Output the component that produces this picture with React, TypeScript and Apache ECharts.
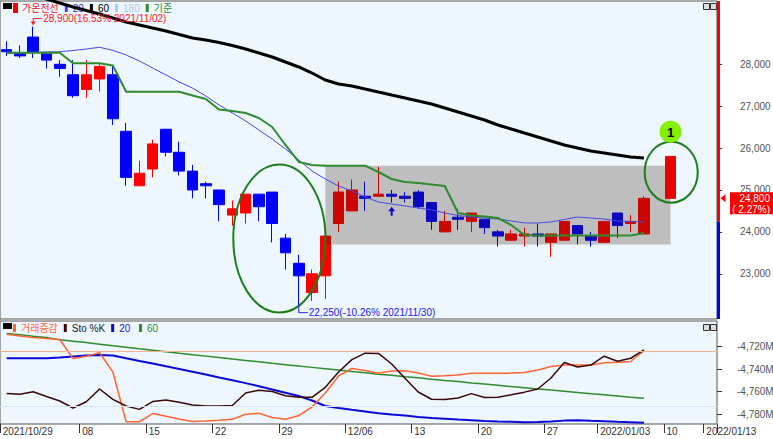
import React, { useEffect, useRef } from 'react';
import * as echarts from 'echarts';

const FONT = "'Liberation Sans', 'Noto Sans CJK KR', sans-serif";

const dates = [
  '2021/10/29',
  '2021/11/01', '2021/11/02', '2021/11/03', '2021/11/04', '2021/11/05',
  '2021/11/08', '2021/11/09', '2021/11/10', '2021/11/11', '2021/11/12',
  '2021/11/15', '2021/11/16', '2021/11/17', '2021/11/18', '2021/11/19',
  '2021/11/22', '2021/11/23', '2021/11/24', '2021/11/25', '2021/11/26',
  '2021/11/29', '2021/11/30', '2021/12/01', '2021/12/02', '2021/12/03',
  '2021/12/06', '2021/12/07', '2021/12/08', '2021/12/09', '2021/12/10',
  '2021/12/13', '2021/12/14', '2021/12/15', '2021/12/16', '2021/12/17',
  '2021/12/20', '2021/12/21', '2021/12/22', '2021/12/23', '2021/12/24',
  '2021/12/27', '2021/12/28', '2021/12/29', '2021/12/30',
  '2022/01/03', '2022/01/04', '2022/01/05', '2022/01/06', '2022/01/07',
  '2022/01/10', '2022/01/11', '2022/01/12', '2022/01/13',
];

const xTickIdx = [0, 6, 11, 16, 21, 26, 31, 36, 41, 45, 50, 53];
const xTickText = ['2021/10/29', '08', '15', '22', '29', '12/06', '13', '20', '27', '2022/01/03', '10', '2022/01/13'];

const yTicksTop = [23000, 24000, 25000, 26000, 27000, 28000];
const yTicksLow = [-4780, -4760, -4740, -4720];

const opens = [
  28350, 28250, 28650, 28250, 28000, 27750, 27400, 27650, 27750, 26400,
  25100, 25500, 26450, 25900, 25450, 25150, 25000, 24400, 24450, 24900,
  24950, 23850, 23250, 22550, 22950, 24200, 24500, 24850, 24850, 24900,
  24850, 24950, 24700, 24000, 24350, 24250, 24300, 24000, 23800, 23900,
  23950, 23750, 23800, 24150, 23900, 23750, 24450, 24200, 23950,
];
const closes = [
  28300, 28200, 28300, 28100, 27900, 27250, 27750, 27950, 26700, 25300,
  25400, 26100, 25900, 25450, 25000, 25100, 24650, 24550, 24900, 24600,
  24200, 23500, 22950, 23000, 23900, 24950, 25000, 24800, 24900, 24850,
  24800, 24600, 24250, 24250, 24300, 24450, 24100, 23900, 23950, 23950,
  23900, 23950, 24250, 23950, 23800, 24250, 24150, 24250, 24800,
];
const lows = [
  28200, 28150, 28150, 27900, 27700, 27200, 27200, 27350, 26550, 25100,
  25100, 25300, 25800, 25350, 24800, 24800, 24250, 24150, 24200, 24250,
  23750, 23100, 22250, 22350, 22400, 24000, 24500, 24500, 24850, 24700,
  24700, 24550, 24050, 24000, 24050, 24000, 23950, 23650, 23800, 23650,
  23650, 23400, 23800, 23700, 23650, 23750, 23850, 24000, 23950,
];
const highs = [
  28550, 28450, 28900, 28250, 28100, 28100, 28100, 28000, 27950, 26600,
  25700, 26200, 26450, 26150, 25600, 25200, 25000, 24750, 24900, 24900,
  24950, 23950, 23450, 23100, 23950, 25200, 25250, 25200, 25550, 25000,
  24950, 25000, 24700, 24500, 24550, 24450, 24300, 24050, 24050, 24100,
  24200, 23950, 24250, 24150, 24000, 24250, 24450, 24400, 24850,
];

const forecastIdx = 50;
const forecastOHLC = [24800, 25800, 24800, 25800];

const ma20 = [
  28263, 28270, 28282, 28294, 28301, 28329, 28365, 28406, 28334, 28222,
  28079, 27912, 27745, 27578, 27434, 27243, 27029, 26838, 26647, 26432,
  26217, 25978, 25716, 25453, 25262, 25095, 24976, 24833, 24713, 24665,
  24618, 24570, 24522, 24451, 24391, 24355, 24331, 24307, 24260, 24212,
  24212, 24236, 24295, 24355, 24331, 24307, 24260, 24248, 24236,
];
const ma60 = [
  29821, 29738, 29642, 29559, 29463, 29368, 29284, 29201, 29105, 29010,
  28938, 28866, 28795, 28711, 28628, 28580, 28520, 28449, 28365, 28270,
  28174, 28055, 27936, 27792, 27625, 27530, 27482, 27410, 27339, 27267,
  27196, 27124, 27052, 26957, 26861, 26766, 26670, 26551, 26456, 26360,
  26265, 26169, 26074, 26002, 25930, 25883, 25835, 25787, 25763,
];
const baseLine = [
  28277, 28277, 28277, 28277, 28277, 28024, 28024, 28024, 27971, 27346,
  27346, 27346, 27346, 27346, 27255, 27172, 26921, 26885, 26838, 26718,
  26503, 26074, 25668, 25596, 25580, 25580, 25580, 25580, 25429, 25262,
  25190, 25166, 25131, 25095, 24451, 24391, 24367, 24331, 24164, 23925,
  23913, 23913, 23913, 23913, 23913, 23913, 23913, 23913, 23973,
];

const volChange = [
  -4708.9, -4710.5, -4711.8, -4712.8, -4713.6, -4730.5, -4728.5, -4725.3, -4742.5, -4786.7,
  -4786.7, -4779.4, -4781.9, -4784.3, -4786.5, -4786.1, -4785.4, -4784.5, -4780.1, -4779.2,
  -4782.9, -4784.5, -4781.2, -4773.6, -4761.2, -4746.0, -4739.4, -4741.1, -4743.6, -4741.6,
  -4741.4, -4743.4, -4746.2, -4745.9, -4745.2, -4743.7, -4743.6, -4743.6, -4743.5, -4742.9,
  -4740.7, -4737.6, -4736.3, -4736.3, -4736.3, -4734.2, -4733.8, -4733.2, -4723.6,
];
const stoK = [
  -4761.7, -4762.2, -4760.1, -4764.3, -4768.3, -4774.5, -4768.9, -4757.6, -4766.8, -4772.7,
  -4775.7, -4768.8, -4767.4, -4769.3, -4771.8, -4772.7, -4772.7, -4772.3, -4761.2, -4758.7,
  -4759.8, -4763.6, -4765.0, -4765.0, -4756.1, -4742.5, -4731.5, -4725.8, -4726.0, -4735.4,
  -4748.1, -4760.3, -4766.7, -4767.0, -4765.6, -4761.7, -4765.2, -4765.0, -4762.8, -4760.4,
  -4757.6, -4747.8, -4734.0, -4738.0, -4736.3, -4728.5, -4733.0, -4730.3, -4722.9,
];
const low20 = [
  -4730.3, -4730.3, -4730.3, -4730.3, -4729.6, -4728.7, -4727.8, -4727.4, -4727.8, -4730.3,
  -4732.7, -4734.9, -4737.4, -4739.8, -4742.2, -4744.7, -4747.4, -4749.8, -4752.4, -4755.1,
  -4758.0, -4760.9, -4763.8, -4767.8, -4772.7, -4774.5, -4776.1, -4777.6, -4779.1, -4780.2,
  -4781.2, -4782.5, -4783.4, -4784.1, -4784.8, -4785.4, -4786.0, -4786.5, -4786.8, -4787.1,
  -4786.9, -4786.5, -4785.7, -4785.3, -4785.8, -4786.2, -4786.7, -4787.1, -4787.6,
];
const low60 = [
  -4708.3, -4709.4, -4710.7, -4711.8, -4713.8, -4715.1, -4716.4, -4717.8, -4719.2, -4720.5,
  -4721.9, -4723.2, -4724.5, -4725.9, -4727.1, -4728.4, -4729.7, -4730.9, -4732.3, -4733.5,
  -4734.8, -4736.0, -4737.2, -4738.4, -4739.6, -4740.8, -4742.0, -4743.2, -4744.4, -4745.5,
  -4746.7, -4747.7, -4748.9, -4750.0, -4751.0, -4752.2, -4753.2, -4754.3, -4755.4, -4756.4,
  -4757.5, -4758.6, -4759.6, -4760.7, -4761.8, -4762.8, -4763.8, -4764.9, -4765.9,
];
const lowerRefLines = [-4724.4, -4772.7];

// annotations (data coordinates)
const boxRange = [[24, 25580, 50, 23700]];
const ellipses = [
  [20, 23840, 0.54, 3.47, 1766],
  [50, 25424, 0.05, 2.0, 728],
];
const badge = [[50, 26390]];
const badgeText = ['1'];
const extremes = [[2, 28900], [22, 22250]];
const extremeLabels = ['28,900(16.53% 2021/11/02)', '22,250(-10.26% 2021/11/30)'];
const signalArrow = [[29, 24600]];

const BG = '#EEF6FE';
const RED = '#FF0000';
const BLUE = '#0000FF';

function buildOption() {
  const candleData = opens.map((o, i) => [o, closes[i], lows[i], highs[i]]);
  const forecastData = dates.map((_, i) => (i === forecastIdx ? forecastOHLC : '-'));
  const last = closes.length - 1;
  const edgeData = [[last, closes[last - 1], closes[last]]];

  const fmt = (v: number) => v.toLocaleString('en-US');

  const lineS = (name: string, data: number[], color: string, width: number, xi: number, z = 4) => ({
    name,
    type: 'line',
    xAxisIndex: xi,
    yAxisIndex: xi,
    data,
    color,
    symbol: 'none',
    showSymbol: false,
    lineStyle: { color, width },
    z,
    silent: true,
  });

  const legendBase = {
    padding: 0, itemWidth: 3, itemHeight: 8, itemGap: 6, icon: 'rect',
    selectedMode: false,
    textStyle: { fontSize: 10, fontFamily: FONT },
  };

  return {
    animation: false,
    backgroundColor: '#FFFFFF',
    legend: [
      {
        ...legendBase, left: 13, top: 3,
        data: [
          { name: '가온전선', textStyle: { color: '#E8202A' } },
          { name: '20', textStyle: { color: '#3535C8' } },
          { name: '60', textStyle: { color: '#000000' } },
          { name: '180', textStyle: { color: '#A8CCF0' } },
          { name: '기준', textStyle: { color: '#2E8B2E' } },
        ],
      },
      {
        ...legendBase, left: 13, top: 323,
        data: [
          { name: '거래증감', textStyle: { color: '#FF6633' } },
          { name: 'Sto %K', textStyle: { color: '#222222' } },
          { name: '20 ', textStyle: { color: '#1515D0' } },
          { name: '60 ', textStyle: { color: '#2E8B2E' } },
        ],
      },
    ],
    grid: [
      { left: 0, right: 56, top: 1, height: 318, show: true, backgroundColor: BG, borderColor: '#555', borderWidth: 1, outerBoundsMode: 'none' },
      { left: 0, right: 56, top: 321, height: 103, show: true, backgroundColor: BG, borderColor: '#555', borderWidth: 1, outerBoundsMode: 'none' },
    ],
    xAxis: [
      { type: 'category', gridIndex: 0, data: dates, boundaryGap: true, show: false },
      {
        type: 'category', gridIndex: 1, data: dates, boundaryGap: true,
        axisLine: { show: false },
        axisTick: {
          show: true, length: 9, alignWithLabel: false,
          interval: (i: number) => xTickIdx.indexOf(i) >= 0,
          lineStyle: { color: '#333' },
        },
        axisLabel: {
          show: true, margin: 2, fontSize: 10, fontFamily: FONT, color: '#333',
          align: 'left', padding: [0, 0, 0, -4],
          interval: (i: number) => xTickIdx.indexOf(i) >= 0,
          formatter: (_v: string, i: number) => {
            const k = xTickIdx.indexOf(i);
            return k >= 0 ? xTickText[k] : '';
          },
        },
        splitLine: { show: false },
      },
    ],
    yAxis: [
      {
        type: 'value', gridIndex: 0, position: 'right', min: 21920, max: 29511,
        minInterval: 1000, maxInterval: 1000, scale: true,
        splitLine: { show: false },
        axisLine: { show: false },
        axisTick: { show: true, length: 5, customValues: yTicksTop, lineStyle: { color: '#333' } },
        axisLabel: {
          customValues: yTicksTop, margin: 23, fontSize: 10, fontFamily: FONT, color: '#555',
          formatter: (v: number) => (yTicksTop.indexOf(v) >= 0 ? fmt(v) : ''),
        },
      },
      {
        type: 'value', gridIndex: 1, position: 'right', min: -4788.7, max: -4697.2,
        minInterval: 20, maxInterval: 20, scale: true,
        splitLine: { show: false },
        axisLine: { show: false },
        axisTick: { show: true, length: 5, customValues: yTicksLow, lineStyle: { color: '#333' } },
        axisLabel: {
          customValues: yTicksLow, margin: 20, fontSize: 10, fontFamily: FONT, color: '#555',
          formatter: (v: number) => (yTicksLow.indexOf(v) >= 0 ? fmt(v) + 'M' : ''),
        },
      },
    ],
    graphic: [
      { type: 'rect', left: 3, top: 3, shape: { width: 9, height: 6 }, style: { fill: '#000' } },
      { type: 'rect', left: 3, top: 323, shape: { width: 9, height: 6 }, style: { fill: '#000' } },
      { type: 'rect', left: 703, top: 3, shape: { width: 6, height: 6 }, style: { fill: '#ddd', stroke: '#333', lineWidth: 1 } },
      { type: 'rect', left: 710, top: 3, shape: { width: 6, height: 6 }, style: { fill: '#ddd', stroke: '#333', lineWidth: 1 } },
      { type: 'rect', left: 703, top: 324, shape: { width: 6, height: 6 }, style: { fill: '#ddd', stroke: '#333', lineWidth: 1 } },
      { type: 'rect', left: 710, top: 324, shape: { width: 6, height: 6 }, style: { fill: '#ddd', stroke: '#333', lineWidth: 1 } },
    ],
    series: [
      {
        name: '가온전선', type: 'candlestick', xAxisIndex: 0, yAxisIndex: 0, data: candleData,
        barWidth: 11, z: 2, silent: true,
        itemStyle: { color: RED, color0: BLUE, borderColor: RED, borderColor0: BLUE, borderWidth: 1 },
      },
      {
        name: 'signal', type: 'custom', xAxisIndex: 0, yAxisIndex: 0, data: signalArrow, z: 2, silent: true,
        renderItem: (_p: any, api: any) => {
          const c = api.coord([api.value(0), api.value(1)]);
          return {
            type: 'group',
            children: [
              { type: 'polygon', shape: { points: [[c[0], c[1]], [c[0] - 3.5, c[1] + 4.5], [c[0] + 3.5, c[1] + 4.5]] }, style: { fill: BLUE } },
              { type: 'rect', shape: { x: c[0] - 1, y: c[1] + 4, width: 2, height: 5 }, style: { fill: BLUE } },
            ],
          };
        },
      },
      {
        name: 'box', type: 'custom', xAxisIndex: 0, yAxisIndex: 0, data: boxRange, z: 3, silent: true,
        renderItem: (_p: any, api: any) => {
          const p0 = api.coord([api.value(0), api.value(1)]);
          const p1 = api.coord([api.value(2), api.value(3)]);
          return {
            type: 'rect',
            shape: { x: p0[0], y: p0[1], width: p1[0] - p0[0], height: p1[1] - p0[1] },
            style: { fill: 'rgba(46,22,0,0.25)' },
          };
        },
      },
      lineS('20', ma20, '#4646E6', 1, 0),
      lineS('60', ma60, '#000000', 3, 0),
      lineS('180', [], '#A8CCF0', 1, 0),
      lineS('기준', baseLine, '#2E8B2E', 2, 0),
      {
        name: 'forecast', type: 'candlestick', xAxisIndex: 0, yAxisIndex: 0, data: forecastData,
        barWidth: 11, z: 5, silent: true,
        itemStyle: { color: '#E80000', color0: BLUE, borderColor: '#E80000', borderColor0: BLUE, borderWidth: 1 },
      },
      {
        name: 'ellipses', type: 'custom', xAxisIndex: 0, yAxisIndex: 0, data: ellipses, z: 5, silent: true,
        renderItem: (_p: any, api: any) => {
          const bw = api.size([1, 0])[0];
          const c = api.coord([api.value(0), api.value(1)]);
          const top = api.coord([api.value(0), api.value(1) + api.value(4)]);
          return {
            type: 'ellipse',
            shape: { cx: c[0] + api.value(2) * bw, cy: c[1], rx: api.value(3) * bw, ry: c[1] - top[1] },
            style: { fill: 'none', stroke: '#1C7F1C', lineWidth: 2 },
          };
        },
      },
      {
        name: 'badge', type: 'custom', xAxisIndex: 0, yAxisIndex: 0, data: badge, z: 6, silent: true,
        renderItem: (p: any, api: any) => {
          const c = api.coord([api.value(0), api.value(1)]);
          return {
            type: 'group',
            children: [
              { type: 'circle', shape: { cx: c[0], cy: c[1], r: 11 }, style: { fill: '#84F000' } },
              { type: 'text', style: { text: badgeText[p.dataIndex], x: c[0], y: c[1] + 1, align: 'center', verticalAlign: 'middle', fill: '#000', font: `bold 13px ${FONT}` } },
            ],
          };
        },
      },
      {
        name: 'extremes', type: 'custom', xAxisIndex: 0, yAxisIndex: 0, data: extremes, z: 6, silent: true,
        renderItem: (p: any, api: any) => {
          const c = api.coord([api.value(0), api.value(1)]);
          const up = p.dataIndex === 0;
          const color = up ? '#FF2020' : '#2020FF';
          const ty = up ? c[1] - 8 : c[1] + 7.5;
          const children: any[] = [
            { type: 'polyline', shape: { points: [[c[0], up ? c[1] - 3 : c[1]], [c[0], ty], [c[0] + 9, ty]] }, style: { stroke: color, lineWidth: 1, fill: 'none' } },
            { type: 'text', style: { text: extremeLabels[p.dataIndex], x: c[0] + 10, y: ty, align: 'left', verticalAlign: 'middle', fill: color, font: `10px ${FONT}` } },
          ];
          if (up) {
            children.push({ type: 'polygon', shape: { points: [[c[0] - 2.5, c[1] - 5], [c[0] + 2.5, c[1] - 5], [c[0], c[1] - 1]] }, style: { fill: color } });
          }
          return { type: 'group', children };
        },
      },
      {
        name: 'edge', type: 'custom', xAxisIndex: 0, yAxisIndex: 0, data: edgeData, z: 7, silent: true,
        renderItem: (p: any, api: any) => {
          const cs = p.coordSys;
          const xr = cs.x + cs.width + 1.5;
          const yp = api.coord([api.value(0), api.value(1)])[1];
          const yl = api.coord([api.value(0), api.value(2)])[1];
          const lastV = api.value(2);
          const pct = ((lastV / api.value(1) - 1) * 100).toFixed(2);
          const bx = cs.x + cs.width + 13;
          return {
            type: 'group',
            children: [
              { type: 'line', shape: { x1: xr, y1: cs.y, x2: xr, y2: yp }, style: { stroke: RED, lineWidth: 3 } },
              { type: 'line', shape: { x1: xr, y1: yp, x2: xr, y2: cs.y + cs.height }, style: { stroke: BLUE, lineWidth: 3 } },
              { type: 'polygon', shape: { points: [[xr + 2, yl], [xr + 7, yl - 4], [xr + 7, yl + 4]] }, style: { fill: RED } },
              { type: 'rect', shape: { x: bx, y: yl - 6, width: 773 - bx, height: 22 }, style: { fill: RED } },
              { type: 'text', style: { text: fmt(lastV), x: 770, y: yl + 0.5, align: 'right', verticalAlign: 'middle', fill: '#fff', font: `10px ${FONT}` } },
              { type: 'text', style: { text: `( ${pct}%)`, x: 770, y: yl + 11, align: 'right', verticalAlign: 'middle', fill: '#fff', font: `10px ${FONT}` } },
            ],
          };
        },
      },
      {
        ...lineS('60 ', low60, '#2E8B2E', 1.5, 1),
        markLine: {
          silent: true, symbol: ['none', 'none'], label: { show: false },
          data: [
            { yAxis: lowerRefLines[0], lineStyle: { color: '#F5B090', width: 1, type: 'solid' } },
            { yAxis: lowerRefLines[1], lineStyle: { color: '#D5E3F7', width: 1, type: 'solid' } },
          ],
        },
      },
      lineS('20 ', low20, '#0A0AD8', 2, 1),
      lineS('거래증감', volChange, '#FF6633', 1.5, 1),
      lineS('Sto %K', stoK, '#3A0808', 1.5, 1),
    ],
  };
}

export default function App() {
  const ref = useRef<HTMLDivElement>(null);
  useEffect(() => {
    if (!ref.current) return;
    const chart = echarts.init(ref.current, null, { renderer: 'svg' });
    chart.setOption(buildOption() as any);
    return () => chart.dispose();
  }, []);
  return <div ref={ref} style={{ position: 'fixed', left: 0, top: 0, width: 773, height: 439 }} />;
}
